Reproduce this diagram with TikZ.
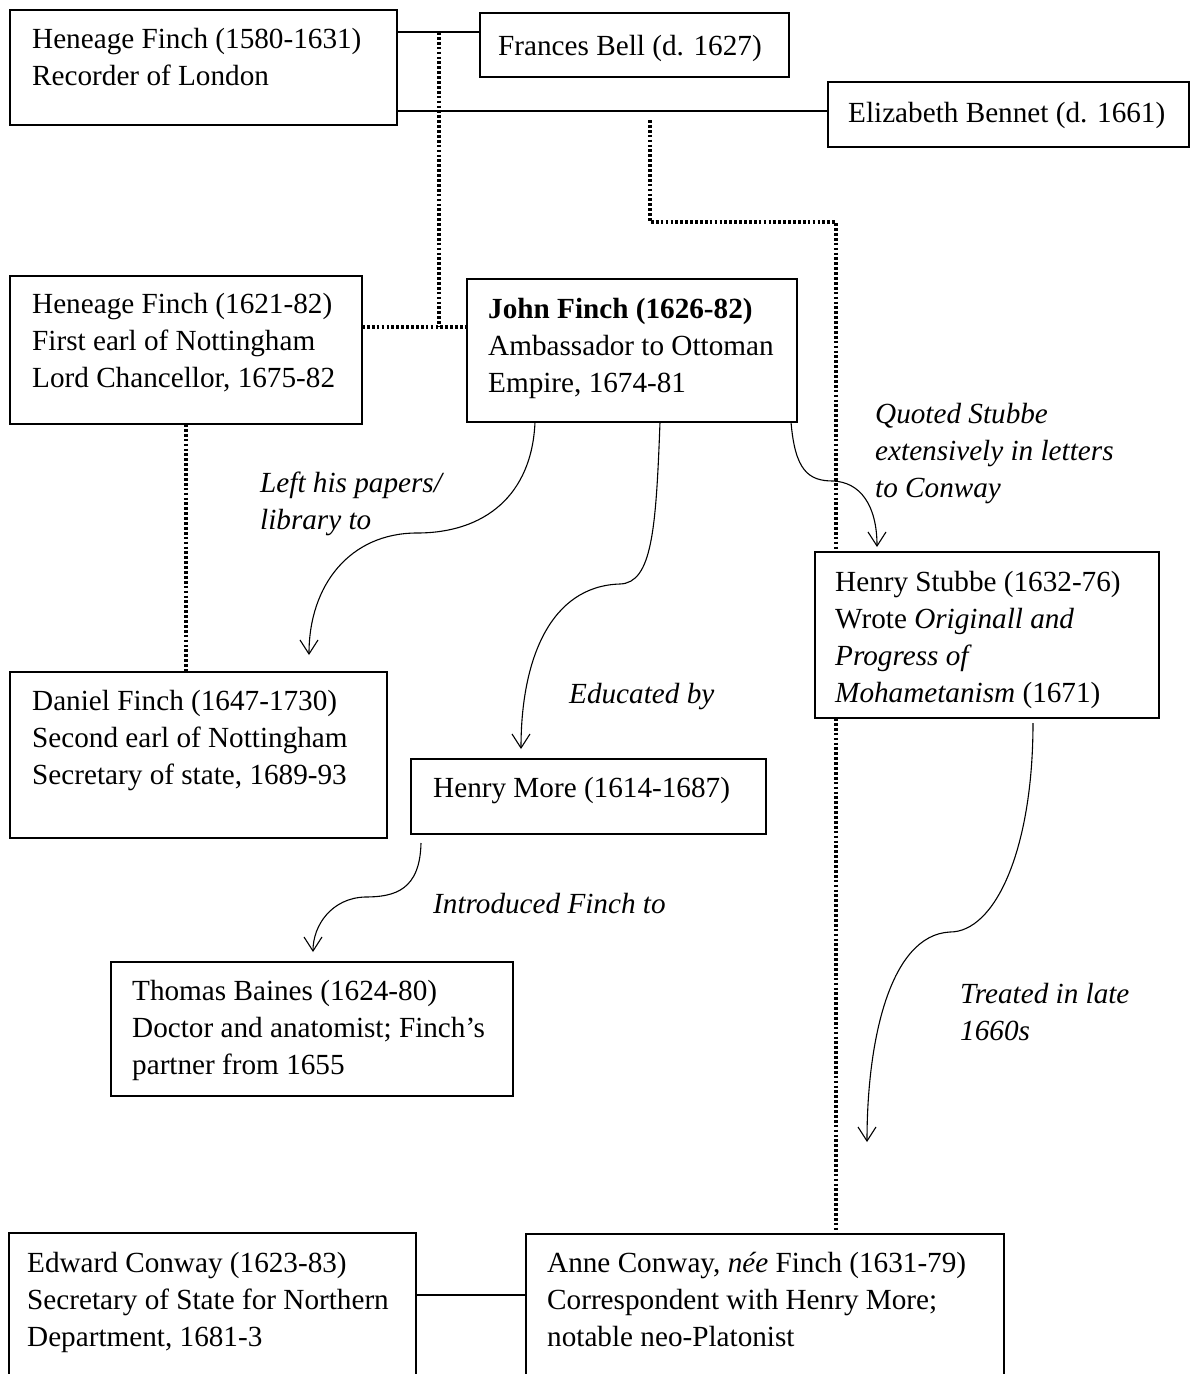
\documentclass[tikz,border=0pt]{standalone}
\usepackage{fontspec}
\setmainfont{Liberation Serif}
\usetikzlibrary{arrows.meta,calc}
\newcommand\mylines[1]{\begin{tabular}[t]{@{}l@{}}#1\end{tabular}}
\begin{document}
\begin{tikzpicture}[x=1pt,y=-1pt,
  box/.style={draw, line width=2.4pt, fill=white, anchor=north west, inner sep=0pt, outer sep=0pt},
  txt/.style={anchor=base west, inner sep=0pt, font=\fontsize{29.2}{37}\selectfont},
  lbl/.style={anchor=base west, inner sep=0pt, font=\fontsize{29.2}{37}\selectfont\itshape},
  marriage/.style={line width=2.7pt},
  kin/.style={line width=3.3pt, dash pattern=on 2.7pt off 2.2pt},
  rel/.style={line width=1.1pt, -{Straight Barb[length=14pt,width=18pt,line width=1.1pt]}},
]
\fill[white] (0,0) rectangle (1190,1374);
\useasboundingbox (0,0) rectangle (1190,1374);
\clip (0,0) rectangle (1190,1374);

% anchor nodes for the boxes
\node[box, minimum width=387pt, minimum height=115pt] (hf1) at (10,10) {};
\node[box, minimum width=309pt, minimum height=64pt] (fb) at (480,13) {};
\node[box, minimum width=361pt, minimum height=65pt] (eb) at (828,82) {};
\node[box, minimum width=352pt, minimum height=148pt] (hf2) at (10,276) {};
\node[box, minimum width=330pt, minimum height=143pt] (jf) at (467,279) {};
\node[box, minimum width=377pt, minimum height=166pt] (df) at (10,672) {};
\node[box, minimum width=355pt, minimum height=75pt] (hm) at (411,759) {};
\node[box, minimum width=402pt, minimum height=134pt] (tb) at (111,962) {};
\node[box, minimum width=407pt, minimum height=200pt] (ec) at (9,1233) {};
\node[box, minimum width=478pt, minimum height=200pt] (ac) at (526,1234) {};

% connectors
\coordinate (m1) at (439,32);
\coordinate (m2) at (650,120);
\coordinate (k2) at (836,222);
\draw[marriage] (hf1.east |- 0,32) -- (fb.west |- 0,32);
\draw[marriage] (hf1.east |- 0,111) -- (eb.west |- 0,111);
\draw[marriage] (ec.east |- 0,1295) -- (ac.west |- 0,1295);
\draw[kin] (m1) -- (m1 |- 0,327);
\draw[kin] (hf2.east |- 0,327) -- (jf.west |- 0,327);
\draw[kin] (m2) |- (k2) -- (k2 |- ac.north);
\draw[kin] (hf2.south) -- (hf2.south |- df.north);

% Stubbe box drawn over the dotted line
\node[box, minimum width=344pt, minimum height=166pt] (sb) at (815,552) {};

% box texts
\node[txt] (thf1) at (32,48) {\mylines{Heneage Finch (1580-1631)\\Recorder of London}};
\node[txt] (tfb) at (498,55) {Frances Bell (d. 1627)};
\node[txt] (teb) at (848,122) {Elizabeth Bennet (d. 1661)};
\node[txt] (thf2) at (32,313) {\mylines{Heneage Finch (1621-82)\\First earl of Nottingham\\Lord Chancellor, 1675-82}};
\node[txt] (tjf) at (488,318) {\mylines{\textbf{John Finch (1626-82)}\\Ambassador to Ottoman\\Empire, 1674-81}};
\node[txt] (tsb) at (835,591) {\mylines{Henry Stubbe (1632-76)\\Wrote \textit{Originall and}\\\textit{Progress of}\\\textit{Mohametanism} (1671)}};
\node[txt] (tdf) at (32,710) {\mylines{Daniel Finch (1647-1730)\\Second earl of Nottingham\\Secretary of state, 1689-93}};
\node[txt] (thm) at (433,797) {Henry More (1614-1687)};
\node[txt] (ttb) at (132,1000) {\mylines{Thomas Baines (1624-80)\\Doctor and anatomist; Finch’s\\partner from 1655}};
\node[txt] (tec) at (27,1272) {\mylines{Edward Conway (1623-83)\\Secretary of State for Northern\\Department, 1681-3}};
\node[txt] (tac) at (547,1272) {\mylines{Anne Conway, \textit{née} Finch (1631-79)\\Correspondent with Henry More;\\notable neo-Platonist}};

% relation labels
\node[lbl] (l1) at (260,492) {\mylines{Left his papers/\\library to}};
\node[lbl] (l2) at (875,423) {\mylines{Quoted Stubbe\\extensively in letters\\to Conway}};
\node[lbl] (l3) at (569,703) {Educated by};
\node[lbl] (l4) at (433,913) {Introduced Finch to};
\node[lbl] (l5) at (960,1003) {\mylines{Treated in late\\1660s}};

% curved arrows
\coordinate (t1) at (309,655);
\coordinate (t2) at (521,749);
\coordinate (t3) at (877,547);
\coordinate (t4) at (313,952);
\coordinate (t5) at (867,1142);
\draw[rel] ($(jf.south west)+(68,0)$) .. controls (532,495) and (485,533) .. (417,533)
  .. controls (350,533) and (309,585) .. (t1);
\draw[rel] ($(jf.south west)+(193,0)$) .. controls (656,530) and (652,583) .. (620,584)
  .. controls (550,586) and (521,660) .. (t2);
\draw[rel] ($(jf.south west)+(324,0)$) .. controls (795,470) and (808,481) .. (833,481)
  .. controls (860,482) and (877,505) .. (t3);
\draw[rel] ($(hm.south west)+(10,9)$) .. controls (420,890) and (395,897) .. (365,897)
  .. controls (332,898) and (313,925) .. (t4);
\draw[rel] ($(sb.south west)+(218,5)$) .. controls (1033,850) and (995,932) .. (950,932)
  .. controls (890,935) and (867,1040) .. (t5);
\end{tikzpicture}
\end{document}
